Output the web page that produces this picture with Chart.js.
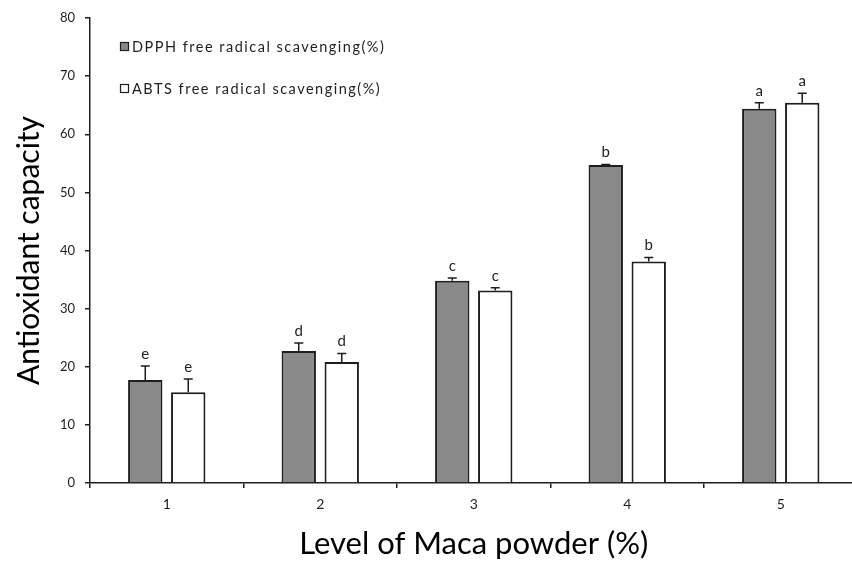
<!DOCTYPE html>
<html>
<head>
<meta charset="utf-8">
<script src="https://cdn.jsdelivr.net/npm/chart.js@4/dist/chart.umd.min.js"></script>
<style>
  html, body { margin: 0; padding: 0; background: #fff; overflow: hidden; }
  #wrap { position: relative; width: 870px; height: 563px; }
</style>
</head>
<body>
<div id="wrap"><canvas id="c" width="870" height="563"></canvas></div>
<script>
// ---- data ----
const categories = ['1', '2', '3', '4', '5'];
const dpphLabel = 'DPPH free radical scavenging(%)';
const abtsLabel = 'ABTS free radical scavenging(%)';
const dpphValues = [17.7, 22.7, 34.8, 54.7, 64.4];
const dpphErrors = [2.45, 1.4, 0.45, 0.1, 1.0];
const dpphLetters = ['e', 'd', 'c', 'b', 'a'];
const abtsValues = [15.6, 20.8, 33.1, 38.1, 65.4];
const abtsErrors = [2.3, 1.5, 0.5, 0.7, 1.65];
const abtsLetters = ['e', 'd', 'c', 'b', 'a'];
const yTicks = [0, 10, 20, 30, 40, 50, 60, 70, 80];
const xTitle = 'Level of Maca powder (%)';
const yTitle = 'Antioxidant capacity';

const FONT = 'Lato, "Open Sans", sans-serif';
const INK = '#1e1e1e';

const errorBarPlugin = {
  id: 'errorBars',
  afterDatasetsDraw(chart) {
    const ctx = chart.ctx;
    const yScale = chart.scales.y;
    ctx.save();
    chart.data.datasets.forEach((ds, i) => {
      const meta = chart.getDatasetMeta(i);
      meta.data.forEach((bar, j) => {
        const v = ds.data[j];
        const err = ds.errors[j];
        const yTop = yScale.getPixelForValue(v + err);
        ctx.strokeStyle = INK;
        ctx.lineWidth = 1.5;
        ctx.beginPath();
        ctx.moveTo(bar.x, bar.y);
        ctx.lineTo(bar.x, yTop);
        ctx.moveTo(bar.x - 4.5, yTop);
        ctx.lineTo(bar.x + 4.5, yTop);
        ctx.stroke();
        ctx.fillStyle = INK;
        ctx.font = '15px ' + FONT;
        ctx.textAlign = 'center';
        ctx.textBaseline = 'alphabetic';
        ctx.fillText(ds.letters[j], bar.x, yTop - 7);
      });
    });
    ctx.restore();
  }
};

const legendPlugin = {
  id: 'insetLegend',
  afterDraw(chart) {
    const ctx = chart.ctx;
    ctx.save();
    const rows = [47, 89];
    chart.data.datasets.forEach((ds, i) => {
      const y = rows[i];
      ctx.fillStyle = ds.backgroundColor;
      ctx.fillRect(120.5, y - 4.5, 8, 8);
      ctx.strokeStyle = INK;
      ctx.lineWidth = 1.2;
      ctx.strokeRect(120.5, y - 4.5, 8, 8);
      ctx.fillStyle = INK;
      ctx.font = '14.5px ' + FONT;
      try { ctx.letterSpacing = '1.5px'; } catch (e) {}
      ctx.textAlign = 'left';
      ctx.textBaseline = 'middle';
      ctx.fillText(ds.label, 132, y);
    });
    ctx.restore();
  }
};

new Chart(document.getElementById('c'), {
  type: 'bar',
  data: {
    labels: categories,
    datasets: [
      { label: dpphLabel, data: dpphValues, errors: dpphErrors, letters: dpphLetters,
        backgroundColor: '#898989', borderColor: INK, borderWidth: 2, borderSkipped: 'bottom' },
      { label: abtsLabel, data: abtsValues, errors: abtsErrors, letters: abtsLetters,
        backgroundColor: '#ffffff', borderColor: INK, borderWidth: 2, borderSkipped: 'bottom' }
    ]
  },
  options: {
    responsive: false,
    animation: false,
    devicePixelRatio: 1,
    categoryPercentage: 0.56,
    barPercentage: 0.8,
    layout: { padding: { top: 18, right: 12.5, bottom: 0, left: 0 } },
    plugins: { legend: { display: false }, tooltip: { enabled: false } },
    scales: {
      x: {
        afterFit: (s) => { s.height = 80; },
        grid: { display: true, offset: true, drawOnChartArea: false, drawTicks: true, tickLength: 5, color: INK, lineWidth: 1.5 },
        border: { display: true, color: INK, width: 1.5 },
        ticks: { color: INK, font: { family: FONT, size: 14 }, padding: 8 },
        title: { display: true, text: xTitle, color: '#000', font: { family: FONT, size: 31 }, padding: { top: 0, bottom: 0 } }
      },
      y: {
        min: 0, max: 80,
        afterFit: (s) => { s.width = 90; },
        afterBuildTicks: (s) => { s.ticks = yTicks.map(v => ({ value: v })); },
        grid: { display: true, drawOnChartArea: false, drawTicks: true, tickLength: 5, color: INK, lineWidth: 1.5 },
        border: { display: true, color: INK, width: 1.5 },
        ticks: { color: INK, font: { family: FONT, size: 13 }, padding: 10 },
        title: { display: true, text: yTitle, color: '#000', font: { family: FONT, size: 30 }, padding: { top: 11, bottom: 0 } }
      }
    }
  },
  plugins: [errorBarPlugin, legendPlugin]
});
</script>
</body>
</html>
